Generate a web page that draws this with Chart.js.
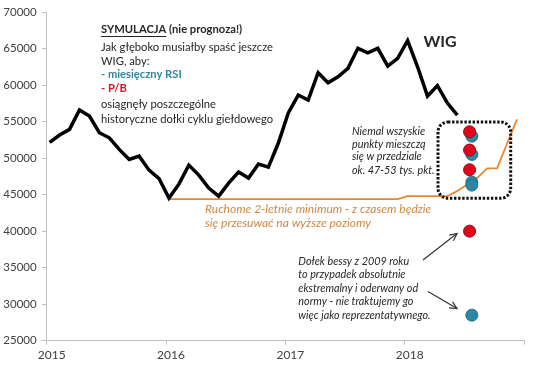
<!DOCTYPE html>
<html><head><meta charset="utf-8">
<script src="https://cdn.jsdelivr.net/npm/chart.js@4"></script>
<style>html,body{margin:0;padding:0;background:#fff;}#wrap{width:536px;height:365px;}</style>
</head><body><div id="wrap"><canvas id="c" width="536" height="365"></canvas></div>
<script>
// ---- data ----
const months = [
 '2015-01','2015-02','2015-03','2015-04','2015-05','2015-06','2015-07','2015-08','2015-09','2015-10','2015-11','2015-12',
 '2016-01','2016-02','2016-03','2016-04','2016-05','2016-06','2016-07','2016-08','2016-09','2016-10','2016-11','2016-12',
 '2017-01','2017-02','2017-03','2017-04','2017-05','2017-06','2017-07','2017-08','2017-09','2017-10','2017-11','2017-12',
 '2018-01','2018-02','2018-03','2018-04','2018-05','2018-06','2018-07','2018-08','2018-09','2018-10','2018-11','2018-12'];
const wigValues = [
 52150,53150,53930,56580,55750,53470,52780,51190,49820,50270,48350,47200,
 44520,46430,49040,47670,45890,44790,46570,48080,47260,49180,48770,52060,
 56170,58630,57940,61680,60310,61140,62290,65030,64420,65030,62600,63660,
 66070,62500,58490,59930,57530,55890];
const movingMin = [
 null,null,null,null,null,null,null,null,null,null,null,null,
 44380,44380,44380,44380,44380,44380,44380,44380,44380,44380,44380,44380,
 44380,44380,44380,44380,44380,44380,44380,44380,44380,44380,44380,44380,
 44790,44790,44790,44790,44790,45500,46400,47300,48600,48600,52000,55300];
const rsiDate = '2018-07-24';
const rsiValues = [53000,50500,46700,46300,28500];
const pbDate = '2018-07-17';
const pbValues = [53600,51100,48400,40000];
const yearTicks = [2015,2016,2017,2018];

// date string -> fractional year (monthly data stamped on day 10)
function toYear(s){
  const p = s.split('-').map(Number);
  const d = p.length > 2 ? p[2] : 10;
  return p[0] + (p[1]-1)/12 + (d-1)/365.25;
}
const wigData = wigValues.map((v,i)=>({x:toYear(months[i]), y:v}));
const minData = movingMin.map((v,i)=>({x:toYear(months[i]), y:v}));
const rsiData = rsiValues.map(v=>({x:toYear(rsiDate), y:v}));
const pbData = pbValues.map(v=>({x:toYear(pbDate), y:v}));

const DARK = '#262626', TEAL = '#31859c', RED = '#e0101e', ORANGE = '#e8872f';
const FONT = 'Lato, "Open Sans", sans-serif';

const notes = {
  intro: {x:101, y:[29.5,47.3,61,74,88.3,104,119], size:11.2},
  wig: {x:440, y:41.5, size:16},
  box: {x1:438, y1:122, x2:510.7, y2:198.3, r:10},
  range: {x:352, y:[131.7,144.5,157,170.5], size:10.8, lines:['Niemal wszyskie','punkty mieszczą','się w przedziale','ok. 47-53 tys. pkt.']},
  minNote: {x:205, y:[209,222.7], size:12, lines:['Ruchome 2-letnie minimum - z czasem będzie','się przesuwać na wyższe poziomy']},
  bear: {x:298.3, y:[261.7,275,288.5,302,315.5], size:10.8, lines:['Dołek bessy z 2009 roku','to przypadek absolutnie','ekstremalny i oderwany od','normy - nie traktujemy go','więc jako reprezentatywnego.']},
  arrows: [[423,260,457,233.5],[428,291.5,457,308.5]]
};

function arrow(ctx, x1,y1,x2,y2){
  ctx.beginPath(); ctx.moveTo(x1,y1); ctx.lineTo(x2,y2); ctx.stroke();
  const a = Math.atan2(y2-y1,x2-x1), L = 8, w = 0.45;
  ctx.beginPath();
  ctx.moveTo(x2 - L*Math.cos(a-w), y2 - L*Math.sin(a-w));
  ctx.lineTo(x2,y2);
  ctx.lineTo(x2 - L*Math.cos(a+w), y2 - L*Math.sin(a+w));
  ctx.stroke();
}

const annot = {
  id:'annot',
  afterDatasetsDraw(chart){
    const ctx = chart.ctx;
    ctx.save();
    ctx.textBaseline = 'middle';
    ctx.textAlign = 'left';
    // intro block
    const n = notes.intro, fs = n.size;
    ctx.fillStyle = DARK;
    ctx.font = `bold ${fs}px ${FONT}`;
    ctx.fillText('SYMULACJA', n.x, n.y[0]);
    const w1 = ctx.measureText('SYMULACJA').width;
    ctx.fillText(' (nie prognoza!)', n.x + w1, n.y[0]);
    ctx.strokeStyle = DARK; ctx.lineWidth = 1;
    ctx.beginPath(); ctx.moveTo(n.x, n.y[0]+7); ctx.lineTo(n.x+w1, n.y[0]+7); ctx.stroke();
    ctx.font = `${fs}px ${FONT}`;
    ctx.fillText('Jak głęboko musiałby spaść jeszcze', n.x, n.y[1]);
    ctx.fillText('WIG, aby:', n.x, n.y[2]);
    ctx.font = `bold ${fs}px ${FONT}`;
    ctx.fillStyle = TEAL; ctx.fillText('- miesięczny RSI', n.x, n.y[3]);
    ctx.fillStyle = RED; ctx.fillText('- P/B', n.x, n.y[4]);
    ctx.font = `${fs}px ${FONT}`;
    ctx.fillStyle = DARK;
    ctx.fillText('osiągnęły poszczególne', n.x, n.y[5]);
    ctx.fillText('historyczne dołki cyklu giełdowego', n.x, n.y[6]);
    // WIG label
    ctx.font = `bold ${notes.wig.size}px ${FONT}`;
    ctx.textAlign = 'center';
    ctx.fillText('WIG', notes.wig.x, notes.wig.y);
    ctx.textAlign = 'left';
    // italic notes
    ctx.font = `italic ${notes.range.size}px ${FONT}`;
    notes.range.lines.forEach((t,i)=>ctx.fillText(t, notes.range.x, notes.range.y[i]));
    ctx.font = `italic ${notes.bear.size}px ${FONT}`;
    notes.bear.lines.forEach((t,i)=>ctx.fillText(t, notes.bear.x, notes.bear.y[i]));
    ctx.fillStyle = '#d08845';
    ctx.font = `italic ${notes.minNote.size}px ${FONT}`;
    notes.minNote.lines.forEach((t,i)=>ctx.fillText(t, notes.minNote.x, notes.minNote.y[i]));
    // arrows
    ctx.strokeStyle = '#333'; ctx.lineWidth = 1.2;
    notes.arrows.forEach(a=>arrow(ctx, ...a));
    // dotted box
    const b = notes.box;
    ctx.strokeStyle = '#111'; ctx.lineWidth = 3; ctx.setLineDash([2.4,1.7]);
    ctx.beginPath();
    ctx.roundRect(b.x1, b.y1, b.x2-b.x1, b.y2-b.y1, b.r);
    ctx.stroke();
    ctx.restore();
  }
};

new Chart(document.getElementById('c'), {
  type:'line',
  data:{datasets:[
    {label:'WIG', data:wigData, borderColor:'#000', borderWidth:3.5, pointRadius:0, tension:0, order:3},
    {label:'Ruchome 2-letnie minimum', data:minData, borderColor:ORANGE, borderWidth:1.8, pointRadius:0, tension:0, spanGaps:false, order:4},
    {label:'miesięczny RSI', type:'scatter', data:rsiData, backgroundColor:'#2f86a3', borderColor:'#256f88', borderWidth:1, pointRadius:6, order:2},
    {label:'P/B', type:'scatter', data:pbData, backgroundColor:'#e3061a', borderColor:'#8e0a10', borderWidth:1, pointRadius:6, order:1}
  ]},
  options:{
    responsive:false, animation:false, devicePixelRatio:1,
    layout:{padding:{top:12, right:12, left:0, bottom:0}},
    plugins:{legend:{display:false}, tooltip:{enabled:false}},
    scales:{
      x:{type:'linear', min:2015, max:2019,
        afterBuildTicks(s){ s.ticks = [2015,2016,2017,2018,2019].map(v=>({value:v})); },
        afterFit(s){ s.height = 24.3; },
        ticks:{callback:v=> yearTicks.includes(v) ? String(v) : '', color:'#404040', font:{family:FONT, size:12}, padding:3, labelOffset:5, maxRotation:0, autoSkip:false},
        grid:{drawOnChartArea:false, tickLength:4, color:'#bfbfbf'},
        border:{color:'#bfbfbf'}
      },
      y:{min:25000, max:70000,
        afterFit(s){ s.width = 46.7; },
        ticks:{stepSize:5000, callback:v=>String(v), color:'#404040', font:{family:FONT, size:11.5}, padding:5},
        grid:{drawOnChartArea:false, tickLength:5, color:'#bfbfbf'},
        border:{color:'#bfbfbf'}
      }
    }
  },
  plugins:[annot]
});
</script></body></html>
